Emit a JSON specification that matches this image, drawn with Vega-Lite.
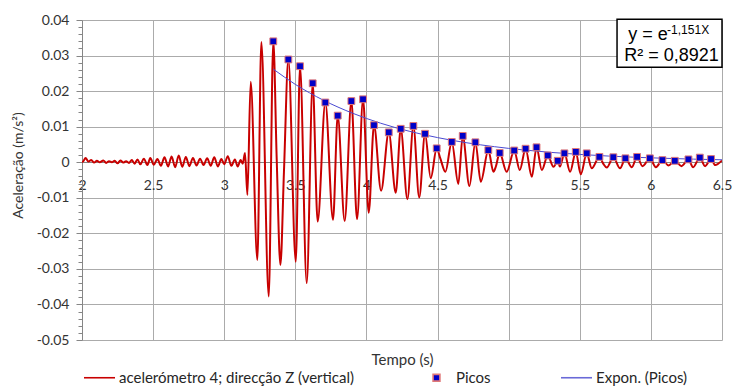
{
  "$schema": "https://vega.github.io/schema/vega-lite/v6.json",
  "width": 640,
  "height": 320,
  "autosize": {"type": "none"},
  "padding": {"left": 82, "top": 20, "right": 10, "bottom": 47},
  "background": "white",
  "config": {
    "font": "Lato",
    "view": {"stroke": null},
    "axis": {"labelFont": "Lato", "titleFont": "Lato", "labelColor": "#333333", "titleColor": "#333333", "titleFontWeight": "normal"}
  },
  "resolve": {"axis": {"y": "independent"}},
  "datasets": {
    "sinal": [
      {"t":2.000,"a":0.0000},{"t":2.010,"a":0.0003},{"t":2.025,"a":0.0012},{"t":2.045,"a":0.0002},{"t":2.065,"a":0.0006},{"t":2.085,"a":-0.0001},{"t":2.105,"a":0.0004},{"t":2.125,"a":0.0000},{"t":2.150,"a":0.0005},{"t":2.170,"a":-0.0002},{"t":2.190,"a":0.0003},{"t":2.210,"a":0.0000},{"t":2.230,"a":0.0004},{"t":2.250,"a":-0.0003},{"t":2.270,"a":0.0005},{"t":2.290,"a":-0.0001},{"t":2.310,"a":0.0003},{"t":2.330,"a":-0.0002},{"t":2.350,"a":0.0006},{"t":2.370,"a":-0.0004},{"t":2.390,"a":0.0008},{"t":2.410,"a":-0.0006},{"t":2.435,"a":0.0010},{"t":2.460,"a":-0.0008},{"t":2.480,"a":0.0012},{"t":2.505,"a":-0.0007},{"t":2.530,"a":0.0009},{"t":2.555,"a":-0.0010},{"t":2.580,"a":0.0014},{"t":2.605,"a":-0.0012},{"t":2.630,"a":0.0016},{"t":2.655,"a":-0.0014},{"t":2.680,"a":0.0019},{"t":2.705,"a":-0.0013},{"t":2.730,"a":0.0015},{"t":2.755,"a":-0.0011},{"t":2.780,"a":0.0012},{"t":2.805,"a":-0.0009},{"t":2.830,"a":0.0010},{"t":2.855,"a":-0.0008},{"t":2.880,"a":0.0011},{"t":2.905,"a":-0.0010},{"t":2.930,"a":0.0014},{"t":2.955,"a":-0.0012},{"t":2.980,"a":0.0009},{"t":3.000,"a":-0.0006},{"t":3.025,"a":0.0017},{"t":3.050,"a":-0.0010},{"t":3.075,"a":0.0008},{"t":3.095,"a":-0.0012},{"t":3.115,"a":0.0006},{"t":3.130,"a":-0.0004},{"t":3.146,"a":0.0026},{"t":3.163,"a":-0.0092},{"t":3.186,"a":0.0226},{"t":3.233,"a":-0.0275},{"t":3.261,"a":0.0338},{"t":3.313,"a":-0.0378},{"t":3.345,"a":0.0340},{"t":3.369,"a":0.0010},{"t":3.395,"a":-0.0289},{"t":3.420,"a":-0.0027},{"t":3.451,"a":0.0289},{"t":3.503,"a":-0.0280},{"t":3.533,"a":0.0270},{"t":3.580,"a":-0.0340},{"t":3.622,"a":0.0222},{"t":3.657,"a":-0.0167},{"t":3.711,"a":0.0168},{"t":3.765,"a":-0.0162},{"t":3.798,"a":0.0131},{"t":3.847,"a":-0.0165},{"t":3.894,"a":0.0172},{"t":3.934,"a":-0.0160},{"t":3.976,"a":0.0177},{"t":4.016,"a":-0.0142},{"t":4.053,"a":0.0104},{"t":4.103,"a":-0.0080},{"t":4.157,"a":0.0084},{"t":4.206,"a":-0.0086},{"t":4.241,"a":0.0094},{"t":4.288,"a":-0.0104},{"t":4.330,"a":0.0102},{"t":4.371,"a":-0.0099},{"t":4.412,"a":0.0080},{"t":4.452,"a":-0.0045},{"t":4.494,"a":0.0039},{"t":4.520,"a":0.0010},{"t":4.555,"a":-0.0027},{"t":4.600,"a":0.0057},{"t":4.646,"a":-0.0061},{"t":4.677,"a":0.0074},{"t":4.724,"a":-0.0067},{"t":4.766,"a":0.0056},{"t":4.804,"a":-0.0055},{"t":4.857,"a":0.0034},{"t":4.893,"a":-0.0027},{"t":4.910,"a":-0.0012},{"t":4.937,"a":0.0026},{"t":4.986,"a":-0.0027},{"t":5.039,"a":0.0033},{"t":5.078,"a":-0.0022},{"t":5.119,"a":0.0038},{"t":5.163,"a":-0.0041},{"t":5.196,"a":0.0042},{"t":5.233,"a":-0.0022},{"t":5.275,"a":0.0019},{"t":5.315,"a":-0.0013},{"t":5.345,"a":0.0004},{"t":5.360,"a":-0.0012},{"t":5.392,"a":0.0025},{"t":5.432,"a":-0.0027},{"t":5.472,"a":0.0029},{"t":5.507,"a":-0.0034},{"t":5.549,"a":0.0025},{"t":5.584,"a":-0.0017},{"t":5.638,"a":0.0015},{"t":5.665,"a":-0.0004},{"t":5.690,"a":-0.0015},{"t":5.736,"a":0.0014},{"t":5.783,"a":-0.0017},{"t":5.821,"a":0.0011},{"t":5.866,"a":-0.0014},{"t":5.903,"a":0.0015},{"t":5.941,"a":-0.0011},{"t":5.993,"a":0.0011},{"t":6.035,"a":-0.0014},{"t":6.081,"a":0.0006},{"t":6.124,"a":-0.0009},{"t":6.168,"a":0.0004},{"t":6.215,"a":-0.0011},{"t":6.264,"a":0.0008},{"t":6.297,"a":-0.0014},{"t":6.344,"a":0.0013},{"t":6.381,"a":-0.0011},{"t":6.423,"a":0.0009},{"t":6.452,"a":-0.0008},{"t":6.500,"a":0.0005}
    ],
    "picos": [
      {"t":3.345,"a":0.0340},{"t":3.451,"a":0.0289},{"t":3.533,"a":0.0270},{"t":3.622,"a":0.0222},{"t":3.711,"a":0.0168},{"t":3.798,"a":0.0131},{"t":3.894,"a":0.0172},{"t":3.976,"a":0.0177},{"t":4.053,"a":0.0104},{"t":4.157,"a":0.0084},{"t":4.241,"a":0.0094},{"t":4.330,"a":0.0102},{"t":4.412,"a":0.0080},{"t":4.494,"a":0.0039},{"t":4.600,"a":0.0057},{"t":4.677,"a":0.0074},{"t":4.766,"a":0.0056},{"t":4.857,"a":0.0034},{"t":4.937,"a":0.0026},{"t":5.039,"a":0.0033},{"t":5.119,"a":0.0038},{"t":5.196,"a":0.0042},{"t":5.275,"a":0.0019},{"t":5.345,"a":0.0004},{"t":5.392,"a":0.0025},{"t":5.472,"a":0.0029},{"t":5.549,"a":0.0025},{"t":5.638,"a":0.0015},{"t":5.736,"a":0.0014},{"t":5.821,"a":0.0011},{"t":5.903,"a":0.0015},{"t":5.993,"a":0.0011},{"t":6.081,"a":0.0006},{"t":6.168,"a":0.0004},{"t":6.264,"a":0.0008},{"t":6.344,"a":0.0013},{"t":6.423,"a":0.0009}
    ],
    "tendencia": [
      {"t":3.345,"a":0.02618},{"t":3.5,"a":0.02189},{"t":3.7,"a":0.01739},{"t":3.9,"a":0.01382},{"t":4.1,"a":0.01097},{"t":4.3,"a":0.00872},{"t":4.5,"a":0.00693},{"t":4.7,"a":0.00550},{"t":4.9,"a":0.00437},{"t":5.1,"a":0.00347},{"t":5.3,"a":0.00276},{"t":5.5,"a":0.00219},{"t":5.7,"a":0.00174},{"t":5.9,"a":0.00138},{"t":6.1,"a":0.00110},{"t":6.3,"a":0.00087},{"t":6.5,"a":0.00069}
    ]
  },
  "layer": [
    {
      "data": {"name": "sinal"},
      "mark": {"type": "line", "interpolate": "monotone", "strokeWidth": 2, "color": "#c80000", "clip": true},
      "encoding": {
        "x": {"field": "t", "type": "quantitative",
          "scale": {"domain": [2, 6.5], "nice": false, "zero": false},
          "axis": {
            "title": "Tempo (s)", "titleFontSize": 15, "titlePadding": 160,
            "values": [2, 2.5, 3, 3.5, 4, 4.5, 5, 5.5, 6, 6.5],
            "labelExpr": "'' + datum.value", "labelFontSize": 14, "labelFlush": false, "labelPadding": 16,
            "ticks": false, "offset": -178, "domainColor": "#868686",
            "grid": true, "gridColor": "#ababab", "labelOverlap": false
          }},
        "y": {"field": "a", "type": "quantitative",
          "scale": {"domain": [-0.05, 0.04], "nice": false, "zero": false},
          "axis": {
            "orient": "left",
            "title": "Aceleração (m/s²)", "titleFontSize": 14, "titleX": -64, "titleY": 145, "titleBaseline": "middle", "titleAngle": -90,
            "values": [-0.05, -0.04, -0.03, -0.02, -0.01, 0, 0.01, 0.02, 0.03, 0.04],
            "labelExpr": "'' + datum.value",
            "labelFontSize": 14, "labelPadding": 7, "labelOverlap": false,
            "tickSize": 6, "tickColor": "#868686", "domainColor": "#868686",
            "grid": true, "gridColor": "#ababab"
          }}
      }
    },
    {
      "data": {"name": "tendencia"},
      "mark": {"type": "line", "interpolate": "monotone", "strokeWidth": 1, "color": "#4a4ad2"},
      "encoding": {
        "x": {"field": "t", "type": "quantitative"},
        "y": {"field": "a", "type": "quantitative",
          "axis": {
            "orient": "left", "title": null, "labels": false, "grid": false, "domain": false,
            "values": [-0.048,-0.046,-0.044,-0.042,-0.038,-0.036,-0.034,-0.032,-0.028,-0.026,-0.024,-0.022,-0.018,-0.016,-0.014,-0.012,-0.008,-0.006,-0.004,-0.002,0.002,0.004,0.006,0.008,0.012,0.014,0.016,0.018,0.022,0.024,0.026,0.028,0.032,0.034,0.036,0.038],
            "tickSize": 4, "tickColor": "#868686"
          }}
      }
    },
    {
      "data": {"name": "picos"},
      "mark": {"type": "point", "filled": false, "fill": "#0000c8", "size": 961, "strokeWidth": 1, "opacity": 1},
      "encoding": {
        "x": {"field": "t", "type": "quantitative"},
        "y": {"field": "a", "type": "quantitative", "axis": null},
        "color": {"datum": "Picos", "type": "nominal",
          "scale": {"domain": ["acelerómetro 4; direcção Z (vertical)", "Picos", "Expon. (Picos)"], "range": ["#c80000", "#e07878", "#6a6ad8"]},
          "legend": {
            "title": null, "orient": "none", "legendX": 1, "legendY": 341, "direction": "horizontal", "columns": 3,
            "columnPadding": 66, "labelLimit": 400, "labelFont": "Lato", "labelFontSize": 15, "labelColor": "#262626",
            "labelOffset": 3, "symbolSize": 961, "symbolStrokeWidth": 1.6, "symbolOffset": 0, "padding": 0
          }},
        "shape": {"datum": "Picos", "type": "nominal",
          "scale": {"domain": ["acelerómetro 4; direcção Z (vertical)", "Picos", "Expon. (Picos)"], "range": ["stroke", "M-0.22,-0.22H0.22V0.22H-0.22Z", "stroke"]},
          "legend": {
            "title": null, "orient": "none", "legendX": 1, "legendY": 341, "direction": "horizontal", "columns": 3,
            "columnPadding": 66, "labelLimit": 400, "labelFont": "Lato", "labelFontSize": 15, "labelColor": "#262626",
            "labelOffset": 3, "symbolSize": 961, "symbolStrokeWidth": 1.6, "symbolOffset": 0, "padding": 0
          }}
      }
    },
    {
      "data": {"values": [{}]},
      "mark": {"type": "rect", "fill": "white", "stroke": "black", "strokeWidth": 1.5},
      "encoding": {
        "x": {"datum": 5.762, "type": "quantitative"},
        "x2": {"datum": 6.5},
        "y": {"datum": 0.0267, "type": "quantitative", "axis": null},
        "y2": {"datum": 0.0402}
      }
    },
    {
      "data": {"values": [{}]},
      "mark": {"type": "text", "text": "y = e", "font": "Liberation Sans", "fontSize": 18, "align": "left", "baseline": "alphabetic", "color": "black"},
      "encoding": {
        "x": {"datum": 5.840, "type": "quantitative"},
        "y": {"datum": 0.0345, "type": "quantitative", "axis": null}
      }
    },
    {
      "data": {"values": [{}]},
      "mark": {"type": "text", "text": "-1,151X", "font": "Liberation Sans", "fontSize": 12, "align": "left", "baseline": "alphabetic", "color": "black"},
      "encoding": {
        "x": {"datum": 6.114, "type": "quantitative"},
        "y": {"datum": 0.0362, "type": "quantitative", "axis": null}
      }
    },
    {
      "data": {"values": [{}]},
      "mark": {"type": "text", "text": "R² = 0,8921", "font": "Liberation Sans", "fontSize": 18, "align": "left", "baseline": "alphabetic", "color": "black"},
      "encoding": {
        "x": {"datum": 5.812, "type": "quantitative"},
        "y": {"datum": 0.0284, "type": "quantitative", "axis": null}
      }
    }
  ]
}
